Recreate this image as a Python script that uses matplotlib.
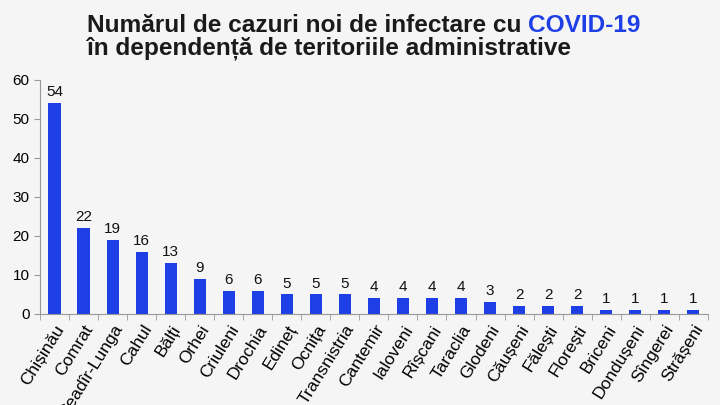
import matplotlib.pyplot as plt
import numpy as np

raioane = ['Chișinău', 'Comrat', 'Ceadîr-Lunga', 'Cahul', 'Bălți', 'Orhei', 'Criuleni',
           'Drochia', 'Edineț', 'Ocnița', 'Transnistria', 'Cantemir', 'Ialoveni', 'Rîșcani',
           'Taraclia', 'Glodeni', 'Căușeni', 'Fălești', 'Florești', 'Briceni', 'Dondușeni',
           'Sîngerei', 'Strășeni']
cazuri = [54, 22, 19, 16, 13, 9, 6, 6, 5, 5, 5, 4, 4, 4, 4, 3, 2, 2, 2, 1, 1, 1, 1]

plt.rcParams['font.family'] = ['Liberation Sans', 'DejaVu Sans']
bg = '#f5f5f5'
albastru = '#1f3fe6'

fig = plt.figure(figsize=(7.2, 4.05), dpi=100, facecolor=bg)
ax = fig.add_axes([0.0556, 0.2247, 0.9274, 0.578])
ax.set_facecolor(bg)

x = np.arange(len(raioane))
ax.bar(x, cazuri, width=0.42, color=albastru)
for xi, v in zip(x, cazuri):
    ax.text(xi, v + 1.0, str(v), ha='center', va='bottom', fontsize=11, color='#111111')

ax.set_xlim(-0.5, len(raioane) - 0.5)
ax.set_ylim(0, 60)
ax.set_yticks(range(0, 61, 10))
ax.set_xticks(x)
# Ceadîr-Lunga iese din imagine jos, ca in original
ax.set_xticklabels(raioane, rotation=58, ha='right', rotation_mode='anchor', fontsize=12.5)
ax.set_xticks(np.arange(-0.5, len(raioane)), minor=True)
ax.tick_params(axis='x', which='major', length=0, pad=6)
ax.tick_params(axis='x', which='minor', length=4, color='#999999')
ax.tick_params(axis='y', length=4, color='#999999', labelsize=11)

for s in ['top', 'right']:
    ax.spines[s].set_visible(False)
ax.spines['left'].set_color('#999999')
ax.spines['bottom'].set_color('#999999')

t1 = fig.text(87 / 720, 1 - 32 / 405, 'Numărul de cazuri noi de infectare cu ',
              fontsize=17.6, fontweight='bold', color='#1a1a1a')
fig.canvas.draw()
bb = t1.get_window_extent()
fig.text(bb.x1 / 720, 1 - 32 / 405, 'COVID-19', fontsize=17.6, fontweight='bold', color=albastru)
fig.text(87 / 720, 1 - 55 / 405, 'în dependență de teritoriile administrative',
         fontsize=17.6, fontweight='bold', color='#1a1a1a')

fig.savefig('out.png', dpi=100, facecolor=bg)
